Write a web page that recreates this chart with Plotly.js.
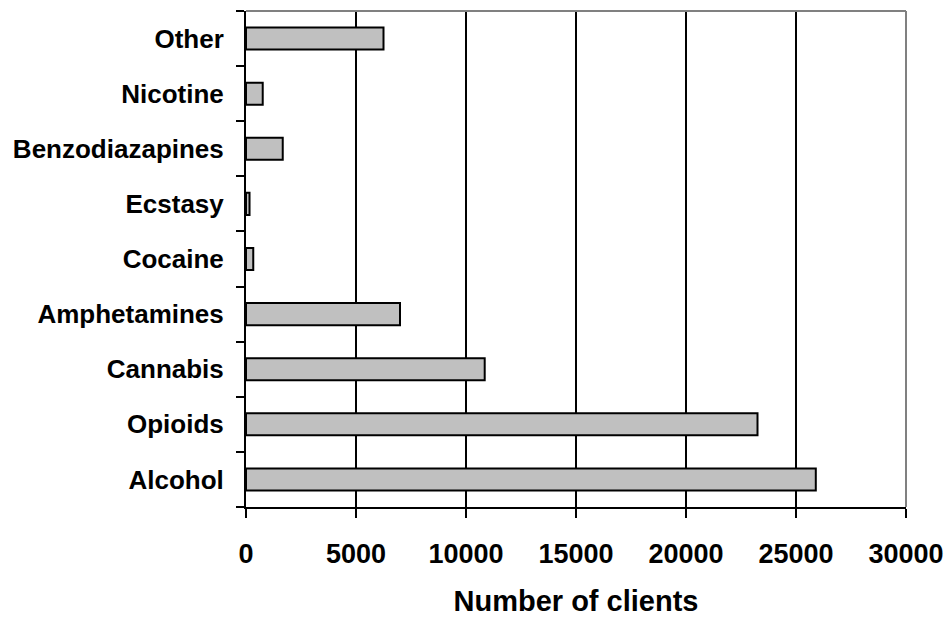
<!DOCTYPE html>
<html>
<head>
<meta charset="utf-8">
<script src="https://cdn.plot.ly/plotly-3.0.1.min.js"></script>
<style>html,body{margin:0;padding:0;background:#fff}#chart{width:952px;height:619px}</style>
</head>
<body>
<div id="chart"></div>
<script>
const categories = ['Alcohol','Opioids','Cannabis','Amphetamines','Cocaine','Ecstasy','Benzodiazapines','Nicotine','Other'];
const clients = [25900, 23250, 10850, 7000, 330, 160, 1670, 760, 6250];
const xTickValues = [0, 5000, 10000, 15000, 20000, 25000, 30000];

const font = {family: 'Liberation Sans, Arial, sans-serif', size: 26, color: '#000'};

const trace = {
  type: 'bar',
  orientation: 'h',
  y: categories,
  x: clients,
  marker: {color: '#c0c0c0', line: {color: '#000', width: 2}},
  hoverinfo: 'none'
};

const layout = {
  width: 952, height: 619,
  margin: {l: 245.5, r: 46, t: 11, b: 112},
  paper_bgcolor: '#fff', plot_bgcolor: '#fff',
  showlegend: false,
  bargap: 0.6,
  font: font,
  xaxis: {
    range: [0, 30000],
    tickvals: xTickValues,
    ticktext: xTickValues.map(String),
    showgrid: true, gridcolor: '#000', gridwidth: 2,
    zeroline: false,
    showline: true, linecolor: '#000', linewidth: 2,
    ticks: 'outside', ticklen: 9, tickwidth: 2, tickcolor: '#000',
    ticklabelstandoff: 13,
    tickfont: {family: font.family, size: 27, color: '#000', weight: 'bold'},
    title: {text: 'Number of clients', standoff: 22,
            font: {family: font.family, size: 29, color: '#000', weight: 'bold'}},
    fixedrange: true
  },
  yaxis: {
    type: 'category',
    categoryorder: 'array', categoryarray: categories,
    showgrid: false, zeroline: false,
    showline: true, linecolor: '#000', linewidth: 2,
    ticks: 'outside', ticklen: 8, tickwidth: 2, tickcolor: '#000',
    tickson: 'boundaries',
    ticklabelstandoff: 15,
    tickfont: {family: font.family, size: 26, color: '#000', weight: 'bold'},
    fixedrange: true
  },
  shapes: [
    {type: 'line', xref: 'paper', yref: 'paper', x0: 0, x1: 1, y0: 1, y1: 1,
     line: {color: '#808080', width: 2}, layer: 'above'},
    {type: 'line', xref: 'paper', yref: 'paper', x0: 1, x1: 1, y0: 0, y1: 1,
     line: {color: '#808080', width: 2}, layer: 'above'}
  ]
};

Plotly.newPlot('chart', [trace], layout, {staticPlot: true, displayModeBar: false});
</script>
</body>
</html>
